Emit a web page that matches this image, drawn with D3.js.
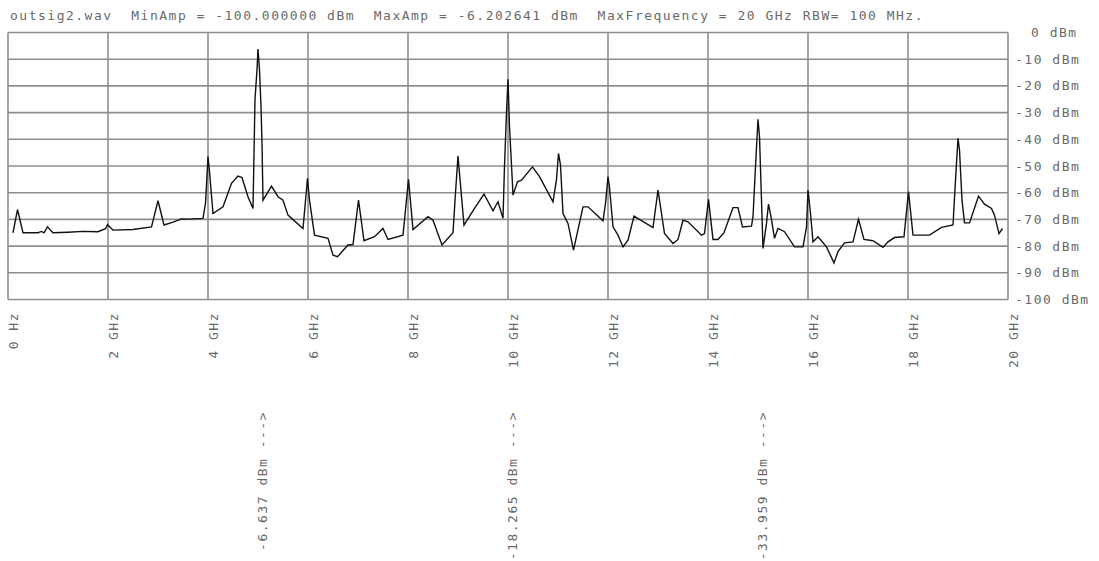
<!DOCTYPE html>
<html><head><meta charset="utf-8">
<script src="https://cdn.jsdelivr.net/npm/d3@7"></script>
<style>
body{margin:0;background:#fff;}
text{font-family:"DejaVu Sans Mono",monospace;font-size:13px;letter-spacing:1.5px;fill:#6a6a6a;white-space:pre;}
</style>
</head><body><svg id="c" width="1099" height="561"></svg>
<script>
const titleText = "outsig2.wav  MinAmp = -100.000000 dBm  MaxAmp = -6.202641 dBm  MaxFrequency = 20 GHz RBW= 100 MHz.";
const freqGHz = [0.1,0.19,0.3,0.6,0.67,0.72,0.79,0.9,1.2,1.5,1.8,1.95,1.99,2.1,2.5,2.87,3.0,3.12,3.3,3.47,3.6,3.9,3.95,4.0,4.03,4.1,4.3,4.47,4.6,4.68,4.8,4.9,4.94,4.98,5.0,5.03,5.06,5.08,5.1,5.27,5.4,5.5,5.6,5.9,5.99,6.03,6.13,6.4,6.5,6.59,6.8,6.9,7.01,7.12,7.33,7.5,7.6,7.9,8.01,8.1,8.4,8.5,8.68,8.9,8.95,9.0,9.12,9.33,9.52,9.7,9.8,9.9,9.93,9.97,10.0,10.03,10.07,10.1,10.19,10.27,10.49,10.63,10.9,10.97,11.01,11.05,11.1,11.2,11.31,11.5,11.6,11.9,11.95,12.0,12.03,12.1,12.2,12.3,12.4,12.52,12.9,13.0,13.13,13.3,13.4,13.5,13.6,13.87,13.93,14.01,14.1,14.2,14.32,14.5,14.6,14.69,14.87,14.9,14.95,15.0,15.03,15.07,15.1,15.17,15.21,15.26,15.33,15.4,15.53,15.73,15.9,15.97,16.0,16.05,16.1,16.2,16.37,16.52,16.6,16.73,16.9,17.01,17.12,17.3,17.5,17.6,17.73,17.92,18.01,18.1,18.43,18.67,18.9,18.95,19.0,19.03,19.08,19.13,19.23,19.41,19.53,19.67,19.73,19.82,19.89];
const ampDbm = [-75,-66.3,-75,-75,-74.5,-75,-72.8,-75,-74.8,-74.5,-74.6,-73.5,-72,-74,-73.8,-72.8,-63,-72.1,-71,-69.8,-69.9,-69.6,-64,-46.5,-52,-67.8,-65.3,-56.5,-53.8,-54.3,-61.5,-65.9,-25,-14,-6.2,-14,-27.8,-41.5,-62.8,-57.5,-61.5,-62.8,-68.4,-73.4,-54.6,-62.8,-75.9,-77.1,-83.4,-84,-79.6,-79.4,-62.8,-78,-76.5,-73.4,-77.5,-75.9,-55,-73.8,-69,-70.3,-79.6,-75,-60,-46.3,-72.1,-65.9,-60.5,-66.8,-63.4,-69.6,-50,-30,-17.5,-35.3,-49.6,-60.9,-55.9,-55.3,-50.3,-54,-63.4,-55,-45.3,-49.6,-67.8,-71.5,-81.5,-65.3,-65.3,-70.5,-64,-54,-58,-72.8,-75.9,-80.3,-77.8,-68.8,-73.1,-59,-75.3,-79,-77.5,-70.3,-70.9,-75.9,-75.3,-62.5,-77.5,-77.5,-75,-65.6,-65.6,-72.8,-72.5,-69,-50.3,-32.5,-39,-62.8,-80.9,-71.5,-64.3,-69,-77.1,-73.4,-74.6,-80.3,-80.3,-72.8,-59,-67.8,-78.4,-76.5,-80.3,-86.3,-82.1,-78.8,-78.4,-70,-77.5,-78,-80.5,-78.4,-76.8,-76.5,-59.6,-75.9,-75.9,-73,-72.1,-55.3,-39.6,-44,-62.8,-71.3,-71.3,-61.3,-64.3,-65.9,-68.4,-75.3,-73.4];
const xTicks = [0,2,4,6,8,10,12,14,16,18,20];
const xTickLabels = ["0 Hz","2 GHz","4 GHz","6 GHz","8 GHz","10 GHz","12 GHz","14 GHz","16 GHz","18 GHz","20 GHz"];
const yTicks = [0,-10,-20,-30,-40,-50,-60,-70,-80,-90,-100];
const yTickLabels = ["0 dBm","-10 dBm","-20 dBm","-30 dBm","-40 dBm","-50 dBm","-60 dBm","-70 dBm","-80 dBm","-90 dBm","-100 dBm"];
const peakFreqs = [5,10,15];
const peakLabels = ["-6.637 dBm --->","-18.265 dBm --->","-33.959 dBm --->"];

const svg = d3.select("#c");
const L = 8, R = 1008, T = 32.5, B = 299.5;
const x = d3.scaleLinear().domain([0,20]).range([L,R]);
const y = d3.scaleLinear().domain([-100,0]).range([B,T]);

svg.append("rect").attr("width",1099).attr("height",561).attr("fill","#fff");

svg.append("text").attr("x",10).attr("y",20).text(titleText);

const grid = svg.append("g").attr("stroke","#8e8e8e").attr("stroke-width",1.6);
grid.selectAll("line.v").data(xTicks).join("line").attr("class","v")
  .attr("x1",d=>x(d)).attr("x2",d=>x(d)).attr("y1",T).attr("y2",B);
grid.selectAll("line.h").data(yTicks).join("line").attr("class","h")
  .attr("x1",L).attr("x2",R).attr("y1",d=>y(d)).attr("y2",d=>y(d));

const pts = freqGHz.map((f,i)=>[f,ampDbm[i]]);
svg.append("path").datum(pts)
  .attr("fill","none").attr("stroke","#111").attr("stroke-width",1.4)
  .attr("stroke-linejoin","miter")
  .attr("d",d3.line().x(d=>x(d[0])).y(d=>y(d[1])));

svg.selectAll("text.yl").data(yTicks).join("text").attr("class","yl")
  .attr("x",d=>d===0?1031:1015).attr("y",d=>y(d)).attr("dy","0.35em")
  .text((d,i)=>yTickLabels[i]);

svg.selectAll("text.xl").data(xTicks).join("text").attr("class","xl")
  .attr("transform",d=>`translate(${x(d)+5},312) rotate(-90)`)
  .attr("text-anchor","end").attr("dy","0.35em")
  .text((d,i)=>xTickLabels[i]);

svg.selectAll("text.pk").data(peakFreqs).join("text").attr("class","pk")
  .attr("transform",d=>`translate(${x(d)+4},411) rotate(-90)`)
  .attr("text-anchor","end").attr("dy","0.35em")
  .text((d,i)=>peakLabels[i]);
</script>
</body></html>
